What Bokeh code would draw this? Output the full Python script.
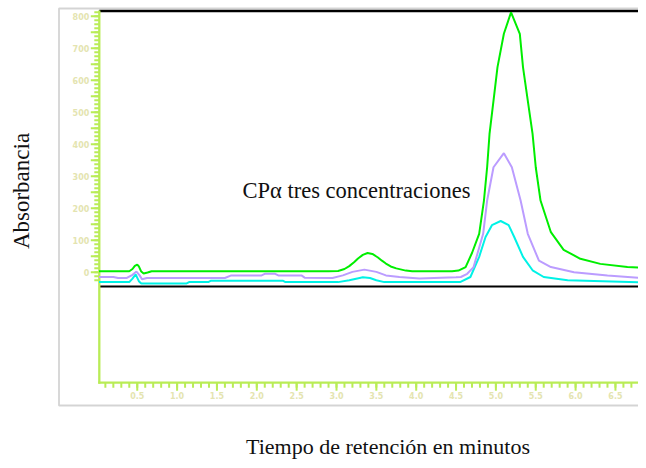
import math
from bokeh.plotting import figure
from bokeh.models import Range1d, Label, BoxAnnotation
from bokeh.core.properties import value
from bokeh.embed import file_html
from bokeh.resources import INLINE

# ---- data (retention time in minutes, absorbance) ----
green_t = [0.02, 0.40, 0.44, 0.47, 0.50, 0.52, 0.55, 0.58, 0.63, 0.68, 2.90, 3.02, 3.10, 3.16,
           3.22, 3.27, 3.33, 3.39, 3.45, 3.52, 3.57, 3.62, 3.68, 3.75, 3.87, 3.95, 4.45, 4.53,
           4.62, 4.70, 4.79, 4.85, 4.89, 4.92, 4.97, 5.02, 5.10, 5.19, 5.30, 5.34, 5.40, 5.46,
           5.50, 5.56, 5.69, 5.85, 6.06, 6.31, 6.65, 6.89]
green_a = [3, 3, 10, 20, 24, 18, 2, -4, -1, 3, 3, 4, 10, 19,
           31, 43, 54, 60, 57, 46, 36, 27, 18, 12, 5, 3, 3, 5,
           16, 60, 120, 224, 328, 432, 536, 641, 745, 812, 745, 641, 536, 432,
           328, 224, 125, 70, 42, 26, 16, 13]

purple_t = [0.02, 0.20, 0.26, 0.37, 0.44, 0.49, 0.53, 0.56, 0.62, 1.60, 1.68, 2.06, 2.10, 2.23,
            2.27, 2.56, 2.60, 2.95, 3.08, 3.20, 3.35, 3.50, 3.62, 3.79, 4.04, 4.50, 4.56, 4.64,
            4.72, 4.84, 4.89, 4.97, 5.10, 5.20, 5.31, 5.40, 5.54, 5.69, 5.98, 6.40, 6.89]
purple_a = [-15, -15, -18, -18, -8, 2, -10, -22, -18, -18, -10, -10, -5, -5,
            -10, -10, -17, -18, -10, 1, 8, 1, -10, -15, -20, -16, -15, -5,
            16, 120, 224, 328, 372, 328, 224, 120, 36, 16, 0, -10, -19]

cyan_t = [0.02, 0.40, 0.44, 0.48, 0.52, 0.55, 1.12, 1.15, 1.39, 1.42, 2.33, 2.36, 3.02, 3.16,
          3.29, 3.33, 3.42, 3.50, 3.60, 4.55, 4.68, 4.79, 4.87, 4.95, 5.06, 5.16, 5.23, 5.34,
          5.46, 5.60, 5.90, 6.89]
cyan_a = [-31, -31, -20, -7, -28, -35, -35, -31, -31, -27, -27, -31, -31, -25,
          -18, -16, -18, -25, -31, -31, -15, 48, 110, 147, 160, 147, 110, 48,
          6, -15, -25, -32]

x_ticks = [0.5, 1.0, 1.5, 2.0, 2.5, 3.0, 3.5, 4.0, 4.5, 5.0, 5.5, 6.0, 6.5]
x_tick_labels = ["0.5", "1.0", "1.5", "2.0", "2.5", "3.0", "3.5", "4.0", "4.5", "5.0", "5.5", "6.0", "6.5"]
x_minor = [round(0.1 * i, 1) for i in range(1, 69)]
y_ticks = [0, 100, 200, 300, 400, 500, 600, 700, 800]
y_tick_labels = ["0", "100", "200", "300", "400", "500", "600", "700", "800"]
y_mid_ticks = [50, 150, 250, 350, 450, 550, 650, 750]
y_minor = [-25 + 12.5 * i for i in range(0, 68)]

note_text = "CPα tres concentraciones"
x_title = "Tiempo de retención en minutos"
y_title = "Absorbancia"

# ---- scale / layout constants ----
W, H = 638, 460
PX_PER_MIN = 79.7       # horizontal pixels per minute
PX_PER_ABS = 0.32       # vertical pixels per absorbance unit
X0_PX = 96.9            # pixel column of t = 0
Y0_PX = 271.7           # pixel row of absorbance 0


def dx(px):
    return px / PX_PER_MIN


def dy(px):
    return px / PX_PER_ABS


def t_of(px):
    return (px - X0_PX) / PX_PER_MIN


def a_of(py):
    return (Y0_PX - py) / PX_PER_ABS


axis_t = t_of(98.8)      # y-axis position
axis_a = a_of(382.2)     # x-axis position
axis_top = a_of(10)
right_t = t_of(W + 10)

AXIS_GREEN = "#b9ec56"
LABEL_PALE = "#e4e4b0"

p = figure(width=W, height=H, output_backend="svg", toolbar_location=None,
           x_range=Range1d(t_of(0), t_of(W)), y_range=Range1d(a_of(H), a_of(0)),
           x_axis_location=None, y_axis_location=None,
           min_border=0, min_border_left=0, min_border_right=0,
           min_border_top=0, min_border_bottom=0)
p.title.visible = False
p.outline_line_color = None
p.xgrid.visible = False
p.ygrid.visible = False
p.background_fill_color = "white"
p.border_fill_color = "white"

# outer grey frame
p.add_layout(BoxAnnotation(left=t_of(58.5), right=t_of(W + 40), top=a_of(8), bottom=a_of(405),
                           fill_alpha=0, line_color="#707070", line_width=1.8))

# black frame lines of the chromatogram window
p.line([axis_t, right_t], [a_of(10.5), a_of(10.5)], line_color="black", line_width=2.5)
p.line([axis_t, right_t], [a_of(286), a_of(286)], line_color="black", line_width=2)

# ---- axes (drawn through the data scales) ----
tick_font = value("DejaVu Sans")
# y axis
p.segment(x0=[axis_t - dx(5)] * len(y_minor), y0=y_minor, x1=[axis_t] * len(y_minor), y1=y_minor,
          line_color=AXIS_GREEN, line_width=2)
p.segment(x0=[axis_t - dx(8.5)] * len(y_mid_ticks), y0=y_mid_ticks, x1=[axis_t] * len(y_mid_ticks),
          y1=y_mid_ticks, line_color=AXIS_GREEN, line_width=2)
p.segment(x0=[axis_t - dx(8.5)] * len(y_ticks), y0=y_ticks, x1=[axis_t] * len(y_ticks), y1=y_ticks,
          line_color=AXIS_GREEN, line_width=2)
p.line([axis_t, axis_t], [axis_a - dy(1), axis_top], line_color=AXIS_GREEN, line_width=2.3)
p.text(x=[axis_t - dx(10)] * len(y_ticks), y=y_ticks, text=y_tick_labels,
       text_align="right", text_baseline="middle", text_font=tick_font,
       text_font_style="bold", text_font_size="8px", text_color=LABEL_PALE)
# x axis
p.segment(x0=x_minor, y0=[axis_a] * len(x_minor), x1=x_minor, y1=[axis_a - dy(5)] * len(x_minor),
          line_color=AXIS_GREEN, line_width=2)
p.segment(x0=x_ticks, y0=[axis_a] * len(x_ticks), x1=x_ticks, y1=[axis_a - dy(8)] * len(x_ticks),
          line_color=AXIS_GREEN, line_width=2)
p.line([axis_t - dx(1), right_t], [axis_a, axis_a], line_color=AXIS_GREEN, line_width=2.3)
p.text(x=x_ticks, y=[axis_a - dy(12.6)] * len(x_ticks), text=x_tick_labels,
       text_align="center", text_baseline="middle", text_font=tick_font,
       text_font_style="bold", text_font_size="8px", text_color=LABEL_PALE)

# ---- chromatograms ----
p.line(cyan_t, cyan_a, line_color="#00f2e6", line_width=2)
p.line(purple_t, purple_a, line_color="#bb9cff", line_width=2)
p.line(green_t, green_a, line_color="#00ee00", line_width=2)

# ---- texts ----
p.add_layout(Label(x=t_of(242), y=a_of(190), text=note_text, text_font="Liberation Serif",
                   text_font_size="22.5px", text_color="#111111", text_align="left",
                   text_baseline="alphabetic"))
p.add_layout(Label(x=t_of(387.5), y=a_of(446), text=x_title, text_font="Liberation Serif",
                   text_font_size="22px", text_color="#111111", text_align="center",
                   text_baseline="alphabetic"))
p.add_layout(Label(x=t_of(21), y=a_of(190.5), text=y_title, text_font="Liberation Serif",
                   text_font_size="23px", text_color="#111111", text_align="center",
                   text_baseline="alphabetic", angle=math.pi / 2))

open("out.html", "w").write(file_html(p, INLINE))
